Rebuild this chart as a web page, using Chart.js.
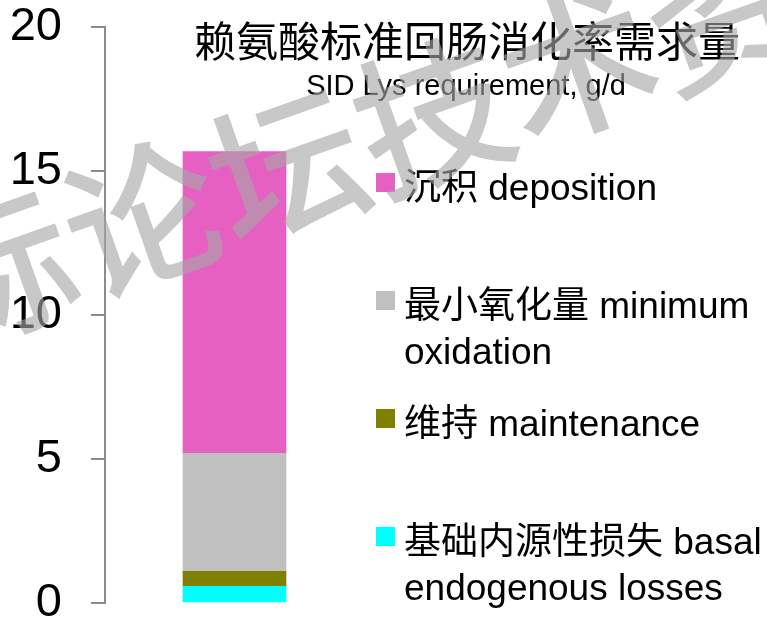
<!DOCTYPE html>
<html>
<head>
<meta charset="utf-8">
<script src="https://cdn.jsdelivr.net/npm/chart.js@4"></script>
<style>
  html, body { margin: 0; padding: 0; background: #fff; }
</style>
</head>
<body>
<canvas id="chart" width="767" height="621"></canvas>
<script>
// Chart data
const categories = ['SID Lys'];
const seriesLabels = [
    '基础内源性损失 basal\nendogenous losses',
    '维持 maintenance',
    '最小氧化量 minimum\noxidation',
    '沉积 deposition'
];
const basalValues = [0.58];
const maintenanceValues = [0.52];
const oxidationValues = [4.1];
const depositionValues = [10.47];
const yTicks = [0, 5, 10, 15, 20];

const titleText = '赖氨酸标准回肠消化率需求量';
const subtitleText = 'SID Lys requirement, g/d';
const watermarkText = '际论坛技术资料';

const seriesColors = ['#00FFFF', '#808000', '#C0C0C0', '#E660C2'];
const latin = '"Liberation Sans", Arial, sans-serif';
const cjk = '"Liberation Sans", "Noto Sans CJK SC", sans-serif';

// Title, legend and watermark drawn on top of the chart
const overlayPlugin = {
    id: 'overlay',
    afterDraw(chart) {
        const ctx = chart.ctx;
        ctx.save();

        // title
        ctx.fillStyle = '#000';
        ctx.textAlign = 'center';
        ctx.textBaseline = 'middle';
        ctx.font = '42px ' + cjk;
        ctx.fillText(titleText, 467, 45);

        // subtitle
        ctx.font = '29px ' + latin;
        ctx.textBaseline = 'alphabetic';
        ctx.fillText(subtitleText, 466, 95);

        // legend, top item is the last dataset
        ctx.textAlign = 'left';
        ctx.font = '37px ' + cjk;
        const items = chart.data.datasets.slice().reverse();
        items.forEach((ds, i) => {
            const base = 200 + i * 118;
            ctx.fillStyle = ds.backgroundColor;
            ctx.fillRect(376, base - 27, 19, 19);
            ctx.fillStyle = '#000';
            ds.label.split('\n').forEach((line, j) => {
                ctx.fillText(line, 404, base + j * 46);
            });
        });

        // watermark
        ctx.translate(142, 218);
        ctx.rotate(-19.5 * Math.PI / 180);
        ctx.fillStyle = 'rgba(166,166,166,0.62)';
        ctx.font = '500 154px "Noto Sans CJK SC", sans-serif';
        ctx.textBaseline = 'middle';
        ctx.fillText(watermarkText, -231, 0);

        ctx.restore();
    }
};

const seriesValues = [basalValues, maintenanceValues, oxidationValues, depositionValues];

new Chart(document.getElementById('chart'), {
    type: 'bar',
    data: {
        labels: categories,
        datasets: seriesValues.map((vals, i) => ({
            label: seriesLabels[i],
            data: vals,
            backgroundColor: seriesColors[i],
            borderWidth: 0,
            barThickness: 103
        }))
    },
    options: {
        responsive: false,
        animation: false,
        layout: { padding: { left: 0, right: 403, top: 27, bottom: 18 } },
        plugins: {
            legend: { display: false },
            title: { display: false },
            tooltip: { enabled: false }
        },
        scales: {
            x: { stacked: true, display: false },
            y: {
                stacked: true,
                min: 0,
                max: 20,
                afterBuildTicks: scale => { scale.ticks = yTicks.map(v => ({ value: v })); },
                afterFit: scale => {
                    scale.width = 105;
                    scale.paddingTop = 0;
                    scale.paddingBottom = 0;
                },
                border: { display: true, color: '#8c8c8c', width: 2 },
                grid: {
                    drawOnChartArea: false,
                    drawTicks: true,
                    tickLength: 14,
                    color: '#8c8c8c',
                    lineWidth: 2
                },
                ticks: {
                    padding: 29,
                    color: '#000',
                    font: { family: latin, size: 47, lineHeight: 0.7 }
                }
            }
        }
    },
    plugins: [overlayPlugin]
});
</script>
</body>
</html>
